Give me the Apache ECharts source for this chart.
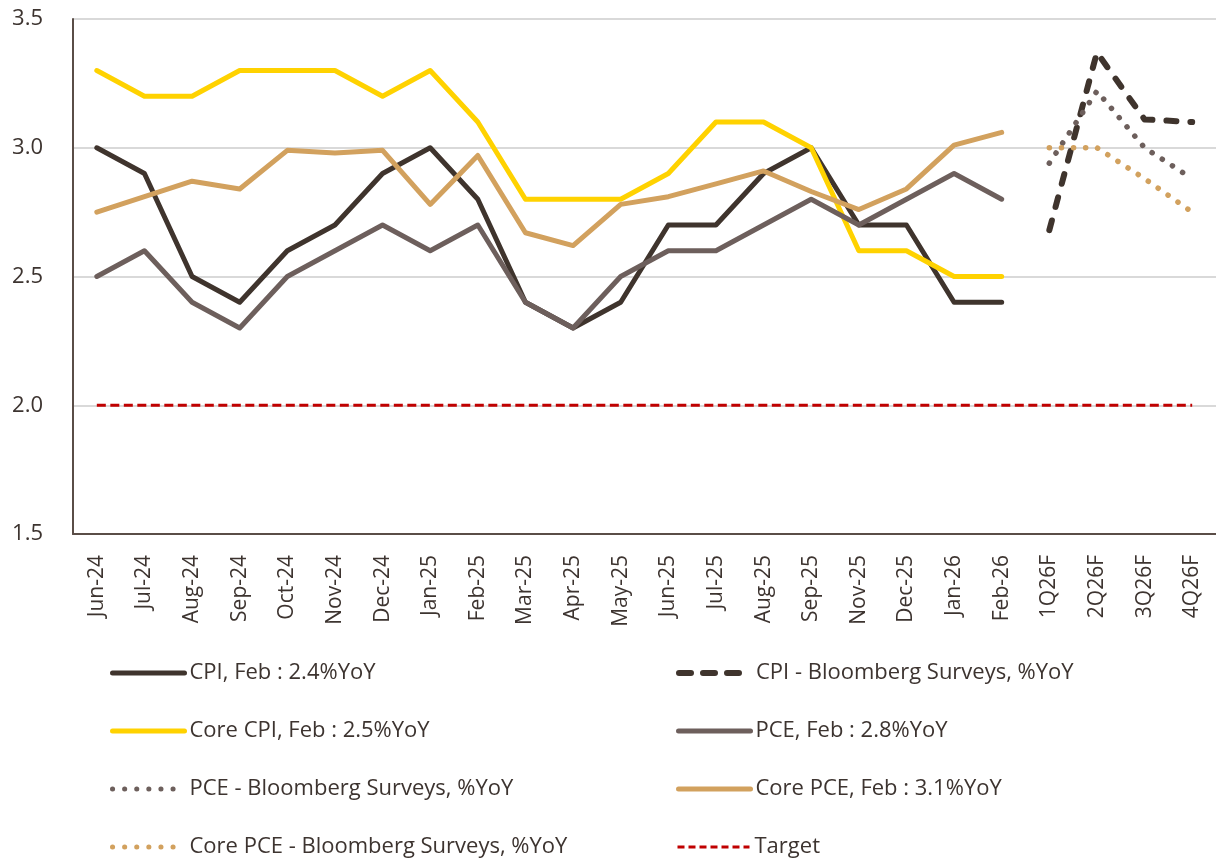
<!DOCTYPE html>
<html>
<head>
<meta charset="utf-8">
<script src="https://cdn.jsdelivr.net/npm/echarts@6/dist/echarts.min.js"></script>
<style>
  html, body { margin: 0; padding: 0; background: #fff; }
  #chart { width: 1216px; height: 861px; }
</style>
</head>
<body>
<div id="chart"></div>
<script>
// categories (note: no Oct-25 in the source)
var months = ['Jun-24', 'Jul-24', 'Aug-24', 'Sep-24', 'Oct-24', 'Nov-24', 'Dec-24', 'Jan-25',
  'Feb-25', 'Mar-25', 'Apr-25', 'May-25', 'Jun-25', 'Jul-25', 'Aug-25', 'Sep-25',
  'Nov-25', 'Dec-25', 'Jan-26', 'Feb-26', '1Q26F', '2Q26F', '3Q26F', '4Q26F'];

var cpi = [3.0, 2.9, 2.5, 2.4, 2.6, 2.7, 2.9, 3.0, 2.8, 2.4, 2.3, 2.4, 2.7, 2.7, 2.9, 3.0, 2.7, 2.7, 2.4, 2.4];
var coreCpi = [3.3, 3.2, 3.2, 3.3, 3.3, 3.3, 3.2, 3.3, 3.1, 2.8, 2.8, 2.8, 2.9, 3.1, 3.1, 3.0, 2.6, 2.6, 2.5, 2.5];
var pce = [2.5, 2.6, 2.4, 2.3, 2.5, 2.6, 2.7, 2.6, 2.7, 2.4, 2.3, 2.5, 2.6, 2.6, 2.7, 2.8, 2.7, 2.8, 2.9, 2.8];
var corePce = [2.75, 2.81, 2.87, 2.84, 2.99, 2.98, 2.99, 2.78, 2.97, 2.67, 2.62, 2.78, 2.81, 2.86, 2.91, 2.83, 2.76, 2.84, 3.01, 3.06];

// Bloomberg survey forecasts, 1Q26F..4Q26F
var cpiSurvey = [2.68, 3.37, 3.11, 3.10];
var pceSurvey = [2.94, 3.22, 3.00, 2.88];
var corePceSurvey = [3.00, 3.00, 2.88, 2.75];

var target = [2.0, 2.0, 2.0, 2.0, 2.0, 2.0, 2.0, 2.0, 2.0, 2.0, 2.0, 2.0,
  2.0, 2.0, 2.0, 2.0, 2.0, 2.0, 2.0, 2.0, 2.0, 2.0, 2.0, 2.0];

var yTicks = [1.5, 2.0, 2.5, 3.0, 3.5];

var FONT = 'Open Sans';
var nHist = 20;

var C_CPI = '#3f342d', C_CORECPI = '#ffd200', C_PCE = '#6d5f5c', C_COREPCE = '#d2a15e', C_TARGET = '#c00000';
var DASH = [10, 14], DOT = [0.1, 12];

function forecast(vals) {
  var out = [];
  for (var i = 0; i < nHist; i++) out.push(null);
  return out.concat(vals);
}

function solid(name, data, color) {
  return {
    name: name, type: 'line', data: data, symbol: 'none', z: 3,
    lineStyle: { color: color, width: 5, cap: 'round', join: 'round' },
    itemStyle: { color: color }
  };
}

// one legend box per entry, two columns x four rows, line icon only
var legendCols = [110, 676];
var legendRows = [673, 731, 789, 847];
function leg(col, row, name, color, type, width, cap) {
  return {
    left: legendCols[col], top: legendRows[row] - 11, padding: 0,
    itemWidth: 72, itemHeight: 22,
    textStyle: { fontFamily: FONT, fontSize: 22, color: '#3d3430', lineHeight: 22 },
    data: [{
      name: name,
      itemStyle: { opacity: 0, color: 'transparent', borderWidth: 0 },
      lineStyle: { color: color, width: width, type: type, cap: cap }
    }]
  };
}

var chart = echarts.init(document.getElementById('chart'), null, { renderer: 'canvas' });

var option = {
  animation: false,
  backgroundColor: '#fff',
  grid: { left: 73, top: 19, bottom: 327, right: -7, containLabel: false },
  legend: [
    leg(0, 0, 'CPI, Feb : 2.4%YoY', C_CPI, 'solid', 5, 'round'),
    leg(0, 1, 'Core CPI, Feb : 2.5%YoY', C_CORECPI, 'solid', 5, 'round'),
    leg(0, 2, 'PCE - Bloomberg Surveys, %YoY', C_PCE, DOT, 5, 'round'),
    leg(0, 3, 'Core PCE - Bloomberg Surveys, %YoY', C_COREPCE, DOT, 5, 'round'),
    leg(1, 0, 'CPI - Bloomberg Surveys, %YoY', C_CPI, [12, 12], 6, 'round'),
    leg(1, 1, 'PCE, Feb : 2.8%YoY', C_PCE, 'solid', 5, 'round'),
    leg(1, 2, 'Core PCE, Feb : 3.1%YoY', C_COREPCE, 'solid', 5, 'round'),
    leg(1, 3, 'Target', C_TARGET, [7, 4], 3, 'butt')
  ],
  xAxis: {
    type: 'category',
    data: months,
    boundaryGap: true,
    axisLine: { lineStyle: { color: '#5a4d47', width: 2 } },
    axisTick: { show: false },
    axisLabel: {
      rotate: 90, interval: 0, margin: 21,
      fontFamily: FONT, fontSize: 21, color: '#3d3430'
    }
  },
  yAxis: {
    type: 'value',
    min: yTicks[0], max: yTicks[yTicks.length - 1], interval: 0.5,
    axisLine: { show: true, lineStyle: { color: '#5a4d47', width: 2 } },
    axisTick: { show: false },
    splitLine: { lineStyle: { color: '#d9d9d9', width: 2 } },
    axisLabel: {
      margin: 30, fontFamily: FONT, fontSize: 22, color: '#3d3430',
      formatter: function (v) { return v.toFixed(1); }
    }
  },
  series: [
    solid('CPI, Feb : 2.4%YoY', cpi, C_CPI),
    {
      name: 'CPI - Bloomberg Surveys, %YoY', type: 'line', data: forecast(cpiSurvey), symbol: 'none', z: 3,
      lineStyle: { color: C_CPI, width: 6, type: DASH, cap: 'round', join: 'round' },
      itemStyle: { color: C_CPI }
    },
    solid('Core CPI, Feb : 2.5%YoY', coreCpi, C_CORECPI),
    solid('PCE, Feb : 2.8%YoY', pce, C_PCE),
    {
      name: 'PCE - Bloomberg Surveys, %YoY', type: 'line', data: forecast(pceSurvey), symbol: 'none', z: 3,
      lineStyle: { color: C_PCE, width: 5.5, type: DOT, cap: 'round' },
      itemStyle: { color: C_PCE }
    },
    solid('Core PCE, Feb : 3.1%YoY', corePce, C_COREPCE),
    {
      name: 'Core PCE - Bloomberg Surveys, %YoY', type: 'line', data: forecast(corePceSurvey), symbol: 'none', z: 3,
      lineStyle: { color: C_COREPCE, width: 5.5, type: DOT, cap: 'round' },
      itemStyle: { color: C_COREPCE }
    },
    {
      name: 'Target', type: 'line', data: target, symbol: 'none', z: 3,
      lineStyle: { color: C_TARGET, width: 3, type: [9, 4.5] },
      itemStyle: { color: C_TARGET }
    }
  ]
};

chart.setOption(option);
</script>
</body>
</html>
